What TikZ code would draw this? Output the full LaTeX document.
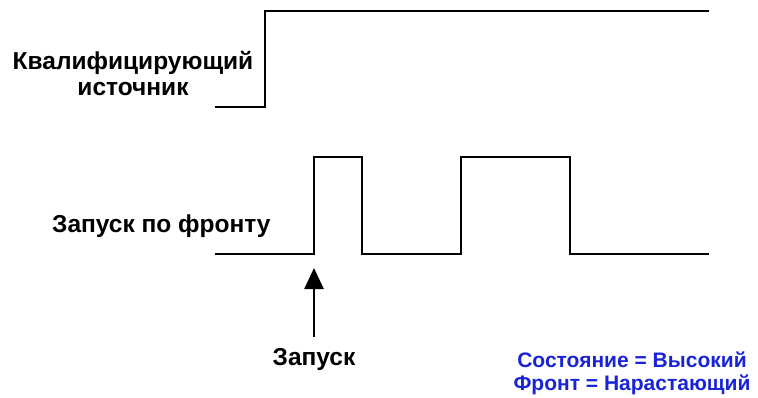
\documentclass[tikz,border=0pt]{standalone}
\usepackage{fontspec}
\setmainfont{Liberation Sans}
\usetikzlibrary{arrows.meta}
\definecolor{lblblue}{RGB}{25,35,215}
\begin{document}
\begin{tikzpicture}[x=1pt,y=-1pt,
  sig/.style={line width=2.8pt,line join=miter},
  lbl/.style={font=\bfseries\fontsize{24.5}{26}\selectfont,text=black,inner sep=0pt},
  note/.style={font=\bfseries\fontsize{21}{23}\selectfont,text=lblblue,inner sep=0pt,align=center}]
\useasboundingbox (0,0) rectangle (758,397);
% qualifying source
\coordinate (q0) at (215,107);
\coordinate (q1) at (709,11);
\draw[sig] (q0) -- (265,107) -- (265,11) -- (q1);
\node[lbl,anchor=base] (qlbl1) at (133,69) {Квалифицирующий};
\node[lbl,anchor=base] (qlbl2) at (133,95) {источник};
% edge trigger
\coordinate (t0) at (215,254);
\coordinate (t1) at (709,254);
\draw[sig] (t0) -- (314,254) -- (314,157) -- (362,157) -- (362,254) -- (461,254) -- (461,157) -- (570,157) -- (570,254) -- (t1);
\node[lbl,anchor=base west] (tlbl) at (52,232) {Запуск по фронту};
% trigger arrow
\node[lbl,anchor=base] (trig) at (314,365) {Запуск};
\coordinate (arrtail) at (314,337);
\coordinate (arrtip) at (314,268);
\draw[line width=2.6pt,-{Triangle[length=21pt,width=19pt]}] (arrtail) -- (arrtip);
% note
\node[note,anchor=base] (note1) at (632,367) {Состояние = Высокий};
\node[note,anchor=base] (note2) at (632,390) {Фронт = Нарастающий};
\end{tikzpicture}
\end{document}
